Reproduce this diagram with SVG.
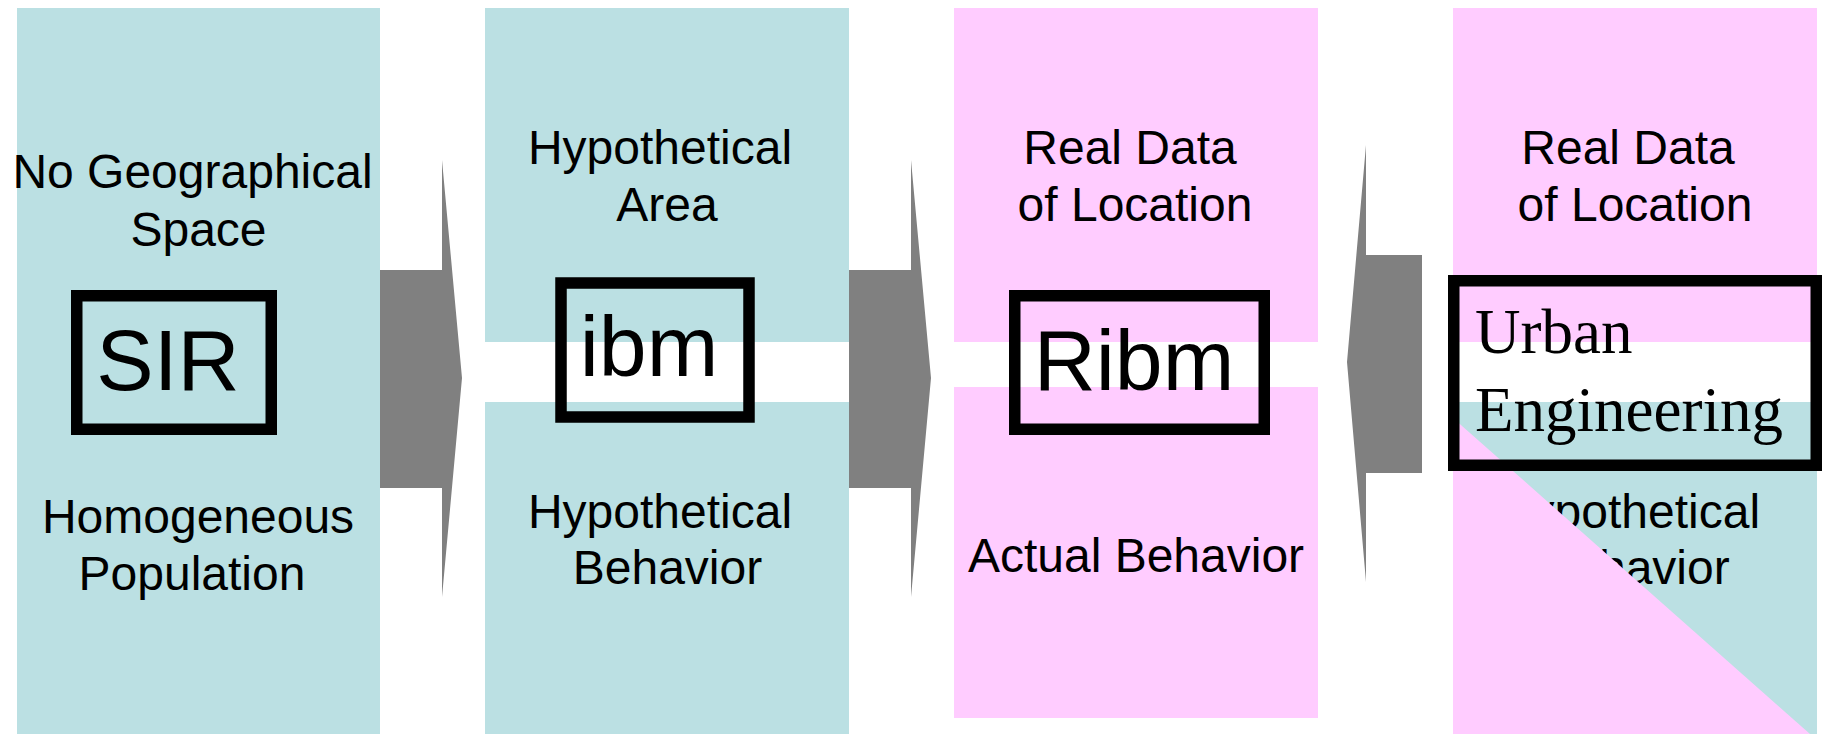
<svg xmlns="http://www.w3.org/2000/svg" width="1822" height="736" viewBox="0 0 1822 736">
  <style>
    .teal { fill: #BBE0E3; }
    .pink { fill: #FFCCFF; }
    .label { font-family: "Liberation Sans", Arial, sans-serif; font-size: 48px; fill: #000; text-anchor: middle; }
    .model { font-family: "Liberation Sans", Arial, sans-serif; font-size: 86px; fill: #000; text-anchor: middle; }
    .serif { font-family: "Liberation Serif", "Times New Roman", serif; font-size: 63px; fill: #000; }
    .frame { fill: none; stroke: #000; stroke-width: 11.5; }
    .arrow { fill: #808080; }
  </style>

  <!-- Stage 1: SIR -->
  <g id="sir">
    <rect class="teal" x="17" y="8" width="363" height="726"/>
    <text class="label" x="192.5" y="188">No Geographical</text>
    <text class="label" x="198.5" y="246">Space</text>
    <rect class="frame" x="76.75" y="295.75" width="194.5" height="133.5"/>
    <text class="model" x="168" y="390">SIR</text>
    <text class="label" x="198" y="533">Homogeneous</text>
    <text class="label" x="192" y="590">Population</text>
  </g>

  <!-- Stage 2: ibm -->
  <g id="ibm">
    <rect class="teal" x="485" y="8" width="364" height="334"/>
    <rect class="teal" x="485" y="402" width="364" height="332"/>
    <text class="label" x="660" y="164">Hypothetical</text>
    <text class="label" x="667" y="221">Area</text>
    <text class="label" x="660" y="528">Hypothetical</text>
    <text class="label" x="667.5" y="584">Behavior</text>
    <rect class="frame" x="561" y="283" width="188" height="134"/>
    <text class="model" x="649" y="376">ibm</text>
  </g>

  <!-- Stage 3: Ribm -->
  <g id="ribm">
    <rect class="pink" x="954" y="8" width="364" height="334"/>
    <rect class="pink" x="954" y="387" width="364" height="331"/>
    <text class="label" x="1130" y="164">Real Data</text>
    <text class="label" x="1135" y="221">of Location</text>
    <text class="label" x="1136" y="572">Actual Behavior</text>
    <rect class="frame" x="1014.75" y="295.75" width="249.5" height="133.5"/>
    <text class="model" x="1134" y="390">Ribm</text>
  </g>

  <!-- Stage 4: Urban Engineering -->
  <g id="urban-engineering">
    <rect class="pink" x="1453" y="8" width="364" height="334"/>
    <rect class="teal" x="1453" y="402" width="364" height="332"/>
    <text class="label" x="1628" y="164">Real Data</text>
    <text class="label" x="1635" y="221">of Location</text>
    <text class="label" x="1628" y="528">Hypothetical</text>
    <text class="label" x="1635" y="584">Behavior</text>
    <polygon class="pink" points="1453,418 1810,734 1453,734"/>
    <rect class="frame" x="1453.75" y="280.75" width="362.5" height="184.5"/>
    <text class="serif" x="1475" y="352.5">Urban</text>
    <text class="serif" x="1475" y="431">Engineering</text>
  </g>

  <!-- Block arrows between stages -->
  <g id="connectors">
    <polygon class="arrow" points="380,270 442,270 442,160 462,378 442,597 442,488 380,488"/>
    <polygon class="arrow" points="849,270 911,270 911,160 931,378 911,597 911,488 849,488"/>
    <polygon class="arrow" points="1422,255 1366,255 1366,145 1347,362 1366,582 1366,473 1422,473"/>
  </g>
</svg>
